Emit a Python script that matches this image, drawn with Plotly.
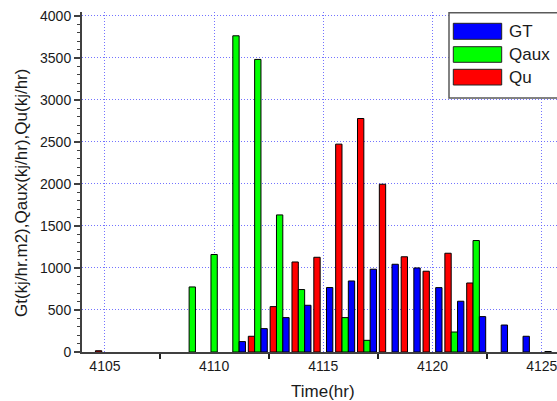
import plotly.graph_objects as go

# Hourly values, 4105..4125 h
hours = list(range(4105, 4126))
gt = [None, None, None, None, None, None,
      124, 278, 409, 556, 767, 845, 985, 1044, 1000, 766, 604, 421, 321, 187, 6]
qaux = [None, None, None, None, 774, 1160, 3762, 3481, 1631, 743, None,
        409, 139, None, None, None, 238, 1326, None, None, None]
qu = [15, None, None, None, None, None, None, 187, 540, 1071, 1127,
      2473, 2778, 1996, 1133, 961, 1175, 821, None, None, None]

series_names = ["GT", "Qaux", "Qu"]
series_colors = ["#0000FF", "#00FF00", "#FF0000"]

W, H = 557, 401
ML, MR, MT, MB = 82, 0, 12, 49
PW, PH = W - ML - MR, H - MT - MB

FONT = "Liberation Sans, Arial, sans-serif"
TXT = "#1a1a1a"
AXC = "#404040"
GRID = "rgba(90,90,255,0.85)"

BW = 0.29  # bar width in hours

fig = go.Figure()
for name, vals, col, off in [
    ("Qu", qu, series_colors[2], -1.5 * BW),
    ("Qaux", qaux, series_colors[1], -0.5 * BW),
    ("GT", gt, series_colors[0], 0.5 * BW),
]:
    fig.add_trace(go.Bar(
        x=hours, y=vals, name=name, width=BW, offset=off,
        marker=dict(color=col, line=dict(color="black", width=1)),
        showlegend=False,
    ))


def px_x(p):
    return (p - ML) / PW


def px_y(p):
    return (H - MB - p) / PH


shapes = []
annotations = []

# legend box
shapes.append(dict(type="rect", xref="paper", yref="paper",
                   x0=px_x(449), x1=px_x(562), y0=px_y(98), y1=px_y(12.7),
                   fillcolor="white", line=dict(color="#5a5a5a", width=1.5),
                   layer="above"))
rows = [(23.3, 39.3), (46.7, 62.3), (69.3, 85.0)]
for name, col, (t, b) in zip(series_names, series_colors, rows):
    shapes.append(dict(type="rect", xref="paper", yref="paper",
                       x0=px_x(453.3), x1=px_x(501.7), y0=px_y(b), y1=px_y(t),
                       fillcolor=col, line=dict(color="#222", width=1),
                       layer="above"))
    annotations.append(dict(xref="paper", yref="paper", x=px_x(506.5),
                            y=px_y((t + b) / 2), text=name, showarrow=False,
                            xanchor="left", yanchor="middle",
                            font=dict(family=FONT, size=17, color=TXT)))

# axis titles
annotations.append(dict(xref="paper", yref="paper", x=px_x(323), y=px_y(391),
                        text="Time(hr)", showarrow=False, xanchor="center",
                        yanchor="middle",
                        font=dict(family=FONT, size=17, color=TXT)))
annotations.append(dict(xref="paper", yref="paper", x=px_x(21), y=px_y(193),
                        text="Gt(kj/hr.m2),Qaux(kj/hr),Qu(kj/hr)",
                        textangle=-90, showarrow=False, xanchor="center",
                        yanchor="middle",
                        font=dict(family=FONT, size=17, color=TXT)))

fig.update_layout(
    width=W, height=H,
    margin=dict(l=ML, r=MR, t=MT, b=MB, pad=0),
    paper_bgcolor="white", plot_bgcolor="white",
    barmode="overlay",
    shapes=shapes, annotations=annotations,
    font=dict(family=FONT, size=14, color=TXT),
)

fig.update_xaxes(
    range=[4103.95, 4125.7],
    tickmode="linear", tick0=4105, dtick=5, ticks="",
    tickfont=dict(family=FONT, size=14, color=TXT),
    ticklabeloverflow="allow",
    showgrid=True, gridcolor=GRID, gridwidth=1, griddash="1px,2px",
    showline=True, linecolor=AXC, linewidth=2,
    zeroline=False,
    minor=dict(tickvals=[4107.5, 4112.5, 4117.5, 4122.5], ticks="outside",
               ticklen=5, tickwidth=1.5, tickcolor="#222", showgrid=False),
)
fig.update_yaxes(
    range=[0, 4045],
    tickmode="linear", tick0=0, dtick=500,
    ticks="outside", ticklen=6, tickwidth=1.5, tickcolor=AXC,
    tickfont=dict(family=FONT, size=14, color=TXT),
    showgrid=True, gridcolor=GRID, gridwidth=1, griddash="1px,2px",
    showline=True, linecolor=AXC, linewidth=2,
    zeroline=False,
    minor=dict(dtick=100, ticks="outside", ticklen=3, tickwidth=1,
               tickcolor=AXC, showgrid=False),
)

fig.write_html("out.html")
